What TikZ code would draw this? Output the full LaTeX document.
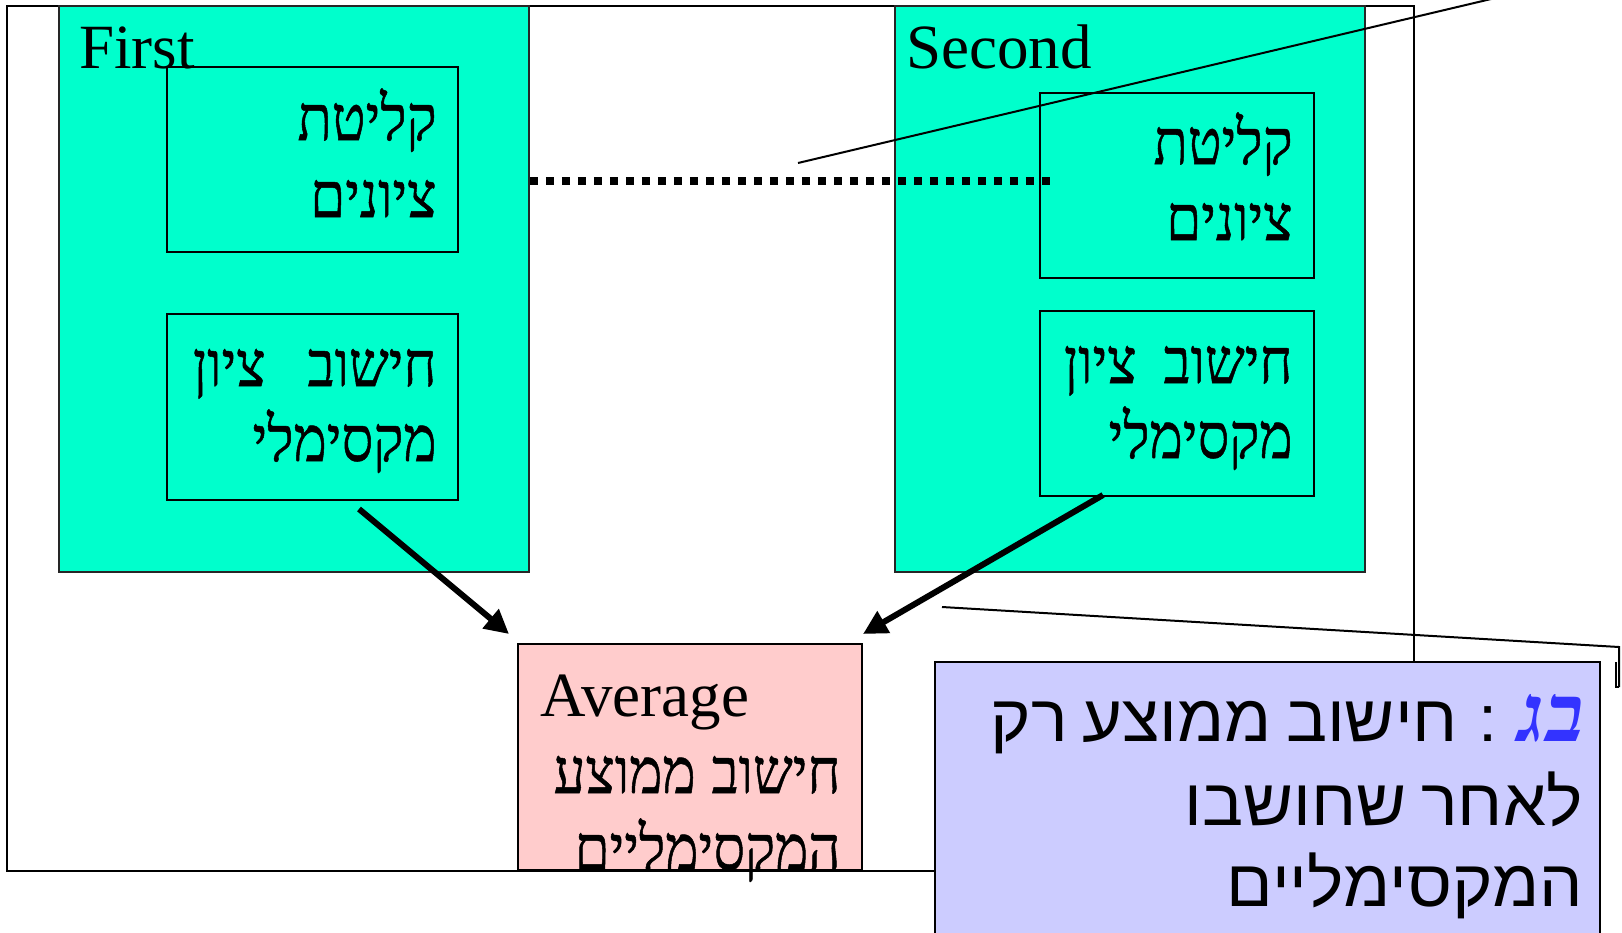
\documentclass[tikz,border=0pt]{standalone}
\usepackage{fontspec}
\setmainfont{Liberation Serif}
\newfontfamily\hebserif[Script=Hebrew, FakeStretch=0.89, FakeBold=0.8]{Liberation Serif}
\newfontfamily\hebbug[Script=Hebrew]{Liberation Serif}
\newfontfamily\hebsans[Script=Hebrew, FakeStretch=1.04, WordSpace=0.75]{Liberation Sans}
\TeXXeTstate=1
\usetikzlibrary{arrows.meta}
\definecolor{cyanfill}{RGB}{0,255,204}
\definecolor{pinkfill}{RGB}{255,204,204}
\definecolor{lavfill}{RGB}{204,204,255}
\definecolor{bugblue}{RGB}{51,51,255}
\tikzset{
  frame/.style={draw=black, line width=1pt, inner sep=0pt},
  panel/.style={draw=black!85, line width=0.75pt, fill=cyanfill, inner sep=0pt},
  stepbox/.style={draw=black, line width=1pt, inner sep=0pt},
  avgbox/.style={draw=black, line width=1pt, fill=pinkfill, inner sep=0pt},
  callbox/.style={draw=black, line width=1pt, fill=lavfill, inner sep=0pt},
  heb/.style={font=\hebserif\fontsize{31.5}{38}\selectfont, anchor=base east, inner sep=0pt},
  hebc/.style={font=\hebsans\fontsize{33}{40}\selectfont, anchor=base east, inner sep=0pt},
  bug/.style={font=\hebbug\fontsize{40}{46}\selectfont\bfseries\itshape, text=bugblue, anchor=base east, inner sep=0pt},
  lat/.style={font=\fontsize{31.5}{38}\selectfont, anchor=base west, inner sep=0pt},
  flow/.style={line width=3pt, -{Triangle[length=12pt,width=12pt]}},
  leader/.style={line width=1pt},
  dots/.style={line width=4pt, dash pattern=on 4pt off 4pt},
}
\begin{document}
\begin{tikzpicture}[x=0.5pt,y=-0.5pt]
\useasboundingbox (0,0) rectangle (1622,932);
\clip (0,0) rectangle (1622,932);
\fill[white] (0,0) rectangle (1622,932);
% outer frame
\node[frame, minimum width=703.5pt, minimum height=432.5pt] (outer) at (710.5,438.5) {};
% panels
\node[panel, minimum width=235pt, minimum height=283pt] (first) at (294,289) {};
\node[panel, minimum width=235pt, minimum height=283pt] (second) at (1130,289) {};
\node[lat] (firstlbl) at (79,68) {First};
\node[lat] (secondlbl) at (906,68) {Second};
% inner boxes
\node[stepbox, minimum width=145.75pt, minimum height=92.5pt] (F1) at (312.25,159.5) {};
\node[stepbox, minimum width=145.75pt, minimum height=93pt] (F2) at (312.25,407) {};
\node[stepbox, minimum width=137pt, minimum height=92.65pt] (S1) at (1177,185.35) {};
\node[stepbox, minimum width=137pt, minimum height=92.5pt] (S2) at (1177,403.5) {};
% inner texts
\node[heb] (F1a) at (437,140) {\beginR קליטת\endR};
\node[heb] (F1b) at (437,217) {\beginR ציונים\endR};
\node[heb] (F2a) at (437,386) {\beginR חישוב\hspace{21pt}ציון\endR};
\node[heb] (F2b) at (437,461) {\beginR מקסימלי\endR};
\node[heb] (S1a) at (1293,164) {\beginR קליטת\endR};
\node[heb] (S1b) at (1293,240) {\beginR ציונים\endR};
\node[heb] (S2a) at (1293,383) {\beginR חישוב\hspace{13.5pt}ציון\endR};
\node[heb] (S2b) at (1293,458) {\beginR מקסימלי\endR};
% dotted link
\coordinate (dotend) at (1050,181);
\draw[dots] (first.east |- dotend) -- (dotend);
% leader line to top
\coordinate (lead1s) at (798,163);
\coordinate (lead1e) at (1530,-10.2);
\draw[leader] (lead1s) -- (lead1e);
% arrows
\coordinate (a1s) at (359,509);
\coordinate (a1e) at (509,634);
\coordinate (a2s) at (1103,495);
\coordinate (a2e) at (863,634);
\draw[flow] (a1s) -- (a1e);
\draw[flow] (a2s) -- (a2e);
% average box
\node[avgbox, minimum width=172pt, minimum height=113pt] (avg) at (690,757) {};
\node[lat] (avglbl) at (540,716.7) {Average};
\node[heb] (avga) at (841,793) {\beginR חישוב\hspace{8pt}ממוצע\endR};
\node[heb] (avgb) at (841,870) {\beginR המקסימליים\endR};
% leader line to callout
\coordinate (lead2s) at (942,607);
\coordinate (lead2c) at (1619,647);
\coordinate (lead2e) at (1619,687);
\draw[leader] (lead2s) -- (lead2c) -- (lead2e);
\draw[leader] (1616,662) -- (1616,687) -- (lead2e);
% callout
\node[callbox, minimum width=332.5pt, minimum height=149pt] (call) at (1267.5,811) {};
\node[bug] (callbug) at (1584,741.7) {\beginR בג\endR};
\node[hebc] (calla) at ([xshift=-10pt]callbug.base west) {\beginR : חישוב ממוצע רק\endR};
\node[hebc] (callb) at (1583,825) {\beginR לאחר שחושבו\endR};
\node[hebc] (callc) at (1583,906.7) {\beginR המקסימליים\endR};
\end{tikzpicture}
\end{document}
